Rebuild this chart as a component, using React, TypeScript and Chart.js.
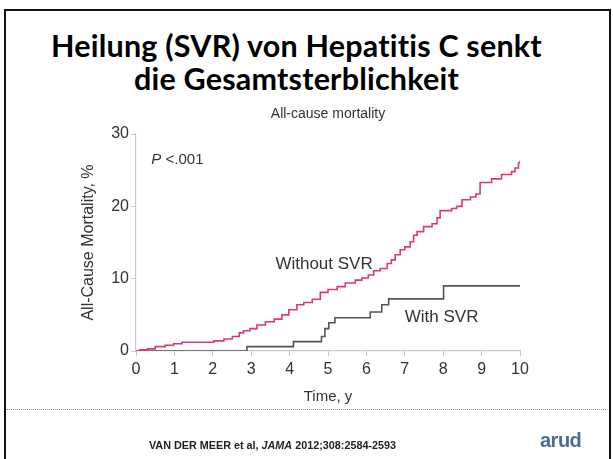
import React, { useEffect, useRef } from "react";
import { Chart, registerables } from "chart.js";

Chart.register(...registerables);

// ---- Data ----
const timeWithoutSVR = [0, 0.1, 0.3, 0.5, 0.76, 0.98, 1.2, 2.03, 2.29, 2.51, 2.69, 2.8, 2.97, 3.15, 3.37, 3.6, 3.8, 3.98, 4.19, 4.37, 4.59, 4.8, 5.0, 5.24, 5.45, 5.71, 5.88, 6.05, 6.19, 6.36, 6.54, 6.65, 6.75, 6.88, 7.0, 7.14, 7.23, 7.32, 7.49, 7.71, 7.84, 7.92, 8.22, 8.35, 8.49, 8.71, 8.85, 8.96, 9.26, 9.52, 9.78, 9.87, 9.96, 10];
const mortalityWithoutSVR = [0, 0.15, 0.3, 0.6, 0.8, 1.0, 1.2, 1.4, 1.65, 2.0, 2.5, 2.8, 3.1, 3.6, 4.05, 4.4, 5.0, 5.7, 6.4, 6.7, 7.15, 8.1, 8.5, 8.9, 9.4, 9.8, 10.1, 10.5, 11.1, 11.4, 12.1, 12.6, 13.3, 14.0, 14.4, 15.1, 16.0, 16.5, 17.2, 17.6, 18.4, 19.4, 19.7, 20.0, 20.9, 21.3, 21.7, 23.3, 23.8, 24.4, 24.8, 25.3, 26.0, 26.3];

const timeWithSVR = [0, 2.89, 4.1, 4.83, 4.92, 5.02, 5.18, 6.1, 6.4, 6.58, 8.01, 10];
const mortalityWithSVR = [0, 0.6, 1.3, 2.0, 3.1, 3.9, 4.6, 5.4, 6.4, 7.2, 9.0, 9.0];

const xTickValues = [0, 1, 2, 3, 4, 5, 6, 7, 8, 9, 10];
const yTickValues = [0, 10, 20, 30];

const slideTitleLines = ["Heilung (SVR) von Hepatitis C senkt", "die Gesamtsterblichkeit"];
const chartTitle = "All-cause mortality";
const xAxisTitle = "Time, y";
const yAxisTitle = "All-Cause Mortality, %";
const labelWithout = "Without SVR";
const labelWith = "With SVR";
const pValueP = "P";
const pValueRest = " <.001";
const citationA = "VAN DER MEER et al, ";
const citationJournal = "JAMA";
const citationB = " 2012;308:2584-2593";
const logoText = "arud";

// annotation anchors in data units [time, mortality]
const withoutLabelAt = [3.63, 12.0];
const withLabelAt = [7.0, 4.6];
const pLabelAt = [0.4, 26.4];

const PINK = "#dc3a6c";
const GRAY = "#555555";
const AXIS = "#c9c9c9";
const TEXT = "#333333";
const FONT = "'Liberation Sans', Arial, sans-serif";

const annotationPlugin = {
  id: "kmLabels",
  afterDatasetsDraw(chart: any) {
    const { ctx, scales } = chart;
    const x = scales.x;
    const y = scales.y;
    ctx.save();
    ctx.fillStyle = TEXT;
    ctx.textBaseline = "middle";
    ctx.textAlign = "left";
    ctx.font = `17px ${FONT}`;
    ctx.fillText(labelWithout, x.getPixelForValue(withoutLabelAt[0]), y.getPixelForValue(withoutLabelAt[1]));
    ctx.fillText(labelWith, x.getPixelForValue(withLabelAt[0]), y.getPixelForValue(withLabelAt[1]));
    const px = x.getPixelForValue(pLabelAt[0]);
    const py = y.getPixelForValue(pLabelAt[1]);
    ctx.font = `italic 15px ${FONT}`;
    ctx.fillText(pValueP, px, py);
    const w = ctx.measureText(pValueP).width;
    ctx.font = `15px ${FONT}`;
    ctx.fillText(pValueRest, px + w, py);
    ctx.restore();
  },
};

function KMChart() {
  const ref = useRef<HTMLCanvasElement | null>(null);
  useEffect(() => {
    if (!ref.current) return;
    const chart = new Chart(ref.current, {
      type: "line",
      data: {
        datasets: [
          {
            label: labelWithout,
            data: timeWithoutSVR.map((t, i) => ({ x: t, y: mortalityWithoutSVR[i] })),
            borderColor: PINK,
            borderWidth: 1.6,
            pointRadius: 0,
            stepped: "before",
            fill: false,
          },
          {
            label: labelWith,
            data: timeWithSVR.map((t, i) => ({ x: t, y: mortalityWithSVR[i] })),
            borderColor: GRAY,
            borderWidth: 1.6,
            pointRadius: 0,
            stepped: "before",
            fill: false,
          },
        ],
      },
      options: {
        animation: false,
        responsive: false,
        devicePixelRatio: 1,
        layout: { padding: { top: 134, right: 93, left: 0, bottom: 0 } },
        plugins: {
          legend: { display: false },
          tooltip: { enabled: false },
          title: { display: false },
        },
        scales: {
          x: {
            type: "linear",
            min: 0,
            max: 10,
            afterBuildTicks: (s: any) => {
              s.ticks = xTickValues.map((v) => ({ value: v }));
            },
            afterFit: (s: any) => {
              s.height = 108;
            },
            ticks: { font: { size: 16, family: FONT }, color: TEXT, padding: 4, maxRotation: 0 },
            grid: { drawOnChartArea: false, drawTicks: true, tickLength: 5, color: AXIS, tickColor: AXIS },
            border: { display: true, color: AXIS, width: 1.2 },
            title: {
              display: true,
              text: xAxisTitle,
              font: { size: 15, family: FONT },
              color: TEXT,
              padding: { top: 0, bottom: 53 },
            },
          },
          y: {
            type: "linear",
            min: 0,
            max: 30,
            afterBuildTicks: (s: any) => {
              s.ticks = yTickValues.map((v) => ({ value: v }));
            },
            afterFit: (s: any) => {
              s.width = 136;
            },
            ticks: { font: { size: 16, family: FONT }, color: TEXT, padding: 2 },
            grid: { drawOnChartArea: false, drawTicks: true, tickLength: 5, color: AXIS, tickColor: AXIS },
            border: { display: true, color: AXIS, width: 1.2 },
            title: {
              display: true,
              text: yAxisTitle,
              font: { size: 16, family: FONT },
              color: TEXT,
              padding: { top: 79, bottom: 0 },
            },
          },
        },
      },
      plugins: [annotationPlugin],
    } as any);
    return () => chart.destroy();
  }, []);
  return <canvas ref={ref} width={613} height={459} style={{ position: "absolute", left: 0, top: 0 }} />;
}

export default function App() {
  return (
    <div
      style={{
        position: "fixed",
        left: 0,
        top: 0,
        width: 613,
        height: 459,
        background: "#ffffff",
        overflow: "hidden",
        fontFamily: FONT,
      }}
    >
      {/* slide frame */}
      <div
        style={{
          position: "absolute",
          left: 4,
          top: 9,
          width: 603,
          height: 470,
          borderTop: "2.5px solid #111",
          borderLeft: "2.5px solid #111",
          borderRight: "2.5px solid #111",
        }}
      />
      {/* slide title */}
      {slideTitleLines.map((line, i) => (
        <div
          key={i}
          style={{
            position: "absolute",
            left: 0,
            width: 593,
            top: 28 + i * 33,
            height: 34,
            lineHeight: "34px",
            textAlign: "center",
            fontFamily: "Lato, 'Noto Sans', sans-serif",
            fontWeight: 700,
            fontSize: 30.5,
            letterSpacing: 0.2,
            color: "#000",
            whiteSpace: "nowrap",
          }}
        >
          {line}
        </div>
      ))}
      <KMChart />
      {/* chart title */}
      <div
        style={{
          position: "absolute",
          left: 228,
          width: 200,
          top: 104,
          height: 18,
          lineHeight: "18px",
          textAlign: "center",
          fontSize: 14,
          color: TEXT,
          whiteSpace: "nowrap",
        }}
      >
        {chartTitle}
      </div>
      {/* dotted separator */}
      <div
        style={{
          position: "absolute",
          left: 6,
          top: 409,
          width: 600,
          height: 0,
          borderTop: "1.5px dotted #9a9a9a",
        }}
      />
      {/* citation */}
      <div
        style={{
          position: "absolute",
          left: 100,
          width: 345,
          top: 438,
          height: 14,
          lineHeight: "14px",
          textAlign: "center",
          fontSize: 10.8,
          fontWeight: 700,
          color: "#222",
          whiteSpace: "nowrap",
        }}
      >
        {citationA}
        <i>{citationJournal}</i>
        {citationB}
      </div>
      {/* logo */}
      <div
        style={{
          position: "absolute",
          left: 540,
          top: 428,
          height: 24,
          lineHeight: "24px",
          fontSize: 20,
          fontWeight: 700,
          color: "#4d6c94",
          letterSpacing: -0.5,
        }}
      >
        {logoText}
      </div>
    </div>
  );
}
